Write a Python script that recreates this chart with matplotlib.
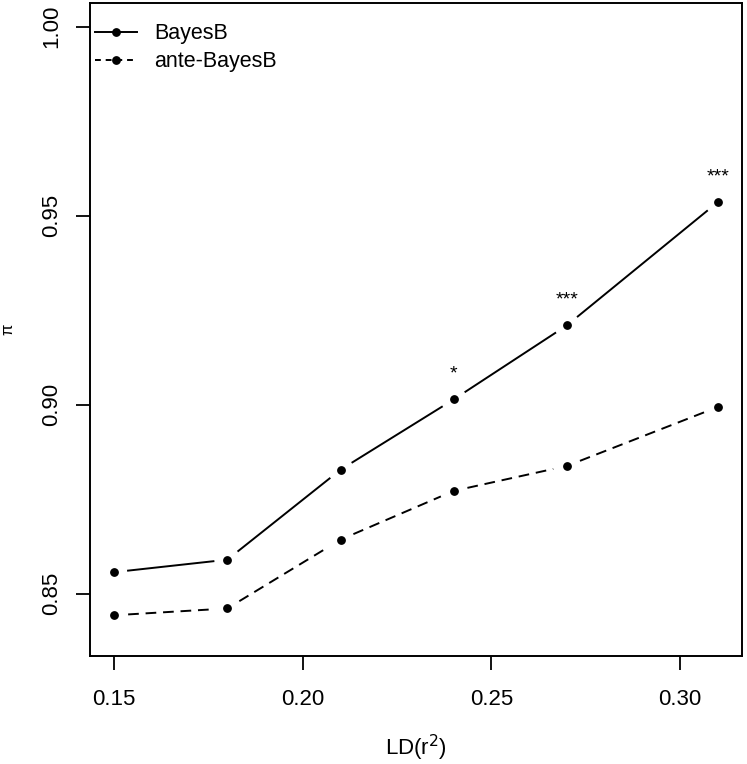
import numpy as np
import matplotlib
matplotlib.use("Agg")
import matplotlib.pyplot as plt
from matplotlib.lines import Line2D

plt.rcParams['font.family'] = ['Liberation Sans', 'DejaVu Sans']

ld = [0.15, 0.18, 0.21, 0.24, 0.27, 0.31]
bayesb = [0.8557, 0.8590, 0.8828, 0.9014, 0.9210, 0.9536]
ante_bayesb = [0.8443, 0.8461, 0.8643, 0.8772, 0.8838, 0.8994]
signif = ['', '', '', '*', '***', '***']
xticks = [0.15, 0.20, 0.25, 0.30]
yticks = [0.85, 0.90, 0.95, 1.00]

W, H = 747, 764
fig = plt.figure(figsize=(W / 100, H / 100), dpi=100)
ax = fig.add_axes([90 / W, (H - 655.7) / H, (742 - 90) / W, (655.7 - 2.5) / H])

# R style: 4% padding around xlim / ylim
def rlim(lo, hi):
    d = (hi - lo) * 0.04
    return lo - d, hi + d

ax.set_xlim(*rlim(0.15, 0.31))
ax.set_ylim(*rlim(0.84, 1.00))


def gapped(x, y, gap_px, **kw):
    # type="b" in R: segments stop short of the points
    pts = ax.transData.transform(np.column_stack([x, y]))
    inv = ax.transData.inverted()
    for p0, p1 in zip(pts[:-1], pts[1:]):
        d = p1 - p0
        L = np.hypot(*d)
        if L <= 2 * gap_px:
            continue
        u = d / L
        a = inv.transform(p0 + u * gap_px)
        b = inv.transform(p1 - u * gap_px)
        ax.plot([a[0], b[0]], [a[1], b[1]], color='black', **kw)
    ax.plot(x, y, 'o', color='black', ms=5.3, ls='none')


gapped(ld, bayesb, 14, lw=1.4, ls='-')
gapped(ld, ante_bayesb, 14, lw=1.4, ls=(0, (5.5, 3.5)))

for xi, yi, s in zip(ld, bayesb, signif):
    if s:
        ax.annotate(s, (xi, yi), xytext=(0, 12), textcoords='offset points',
                    ha='center', va='bottom', fontsize=14)

ax.set_xticks(xticks)
ax.set_xticklabels([f'{t:.2f}' for t in xticks])
ax.set_yticks(yticks)
ax.set_yticklabels([f'{t:.2f}' for t in yticks], rotation=90, va='center')
ax.tick_params(direction='out', length=10, width=1.3, labelsize=16)
ax.tick_params(axis='x', pad=14)
ax.tick_params(axis='y', pad=10)

for sp in ax.spines.values():
    sp.set_linewidth(1.4)

ax.set_xlabel('LD(r$^2$)', fontsize=16)
ax.xaxis.set_label_coords(0.5, -0.118)
ax.set_ylabel('π', fontsize=12)
ax.yaxis.set_label_coords(-0.115, 0.5)

handles = [
    Line2D([], [], color='black', lw=1.4, ls='-', marker='o', ms=5.3),
    Line2D([], [], color='black', lw=1.4, ls=(0, (3, 2.5)), marker='o', ms=5.3),
]
ax.legend(handles, ['BayesB', 'ante-BayesB'], loc='upper left', frameon=False,
          fontsize=15.5, handlelength=1.95, handletextpad=0.8, labelspacing=0.32,
          borderpad=0.0, borderaxespad=0.0, bbox_to_anchor=(0.008, 0.968))

fig.savefig('out.png', dpi=100)
